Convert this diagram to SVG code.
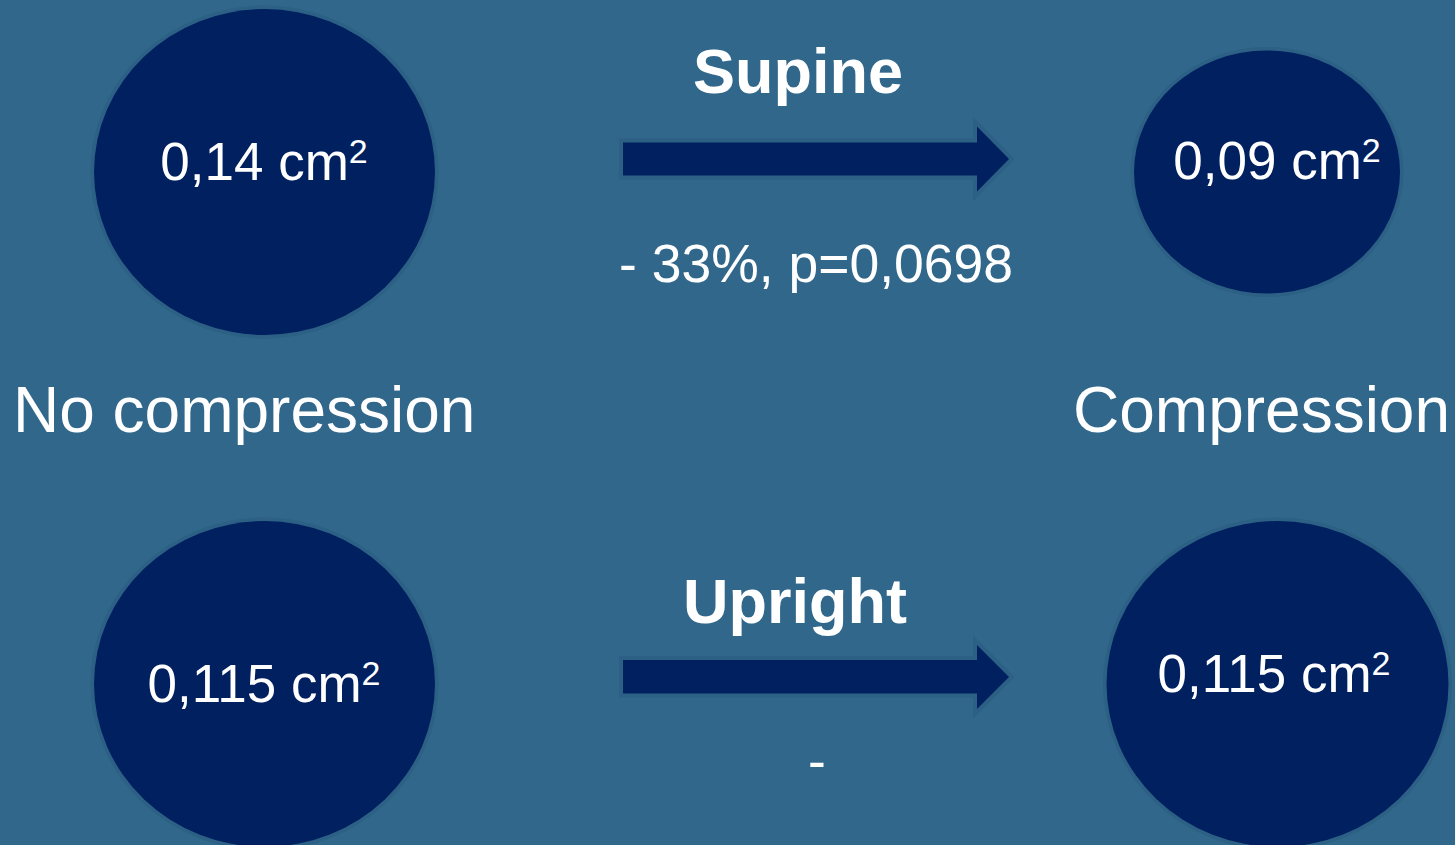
<svg xmlns="http://www.w3.org/2000/svg" width="1455" height="845" viewBox="0 0 1455 845">
  <style>
    .node { fill: #002060; }
    .halo { fill: none; stroke: #2c6084; stroke-width: 6; }
    .arrow { fill: #002060; }
    .arrowhalo { fill: none; stroke: #2c6084; stroke-width: 8; stroke-linejoin: miter; }
    .val { font-family: "Liberation Sans", Arial, sans-serif; font-size: 53px; fill: #ffffff; text-anchor: middle; }
    .sup { font-size: 34px; }
    .lbl { font-family: "Liberation Sans", Arial, sans-serif; font-size: 64px; fill: #ffffff; }
    .title { font-family: "Liberation Sans", Arial, sans-serif; font-size: 63px; font-weight: bold; fill: #ffffff; text-anchor: middle; }
    .stat { font-family: "Liberation Sans", Arial, sans-serif; font-size: 53.5px; fill: #ffffff; }
  </style>
  <rect x="0" y="0" width="1455" height="845" fill="#31678A"/>

  <g id="node-top-left">
    <ellipse class="halo" cx="264.5" cy="172" rx="171" ry="163.5"/>
    <ellipse class="node" cx="264.5" cy="172" rx="170.5" ry="163"/>
    <text class="val" x="264" y="180">0,14 cm<tspan class="sup" dy="-17">2</tspan></text>
  </g>

  <g id="node-top-right">
    <ellipse class="halo" cx="1267" cy="172" rx="133.5" ry="122"/>
    <ellipse class="node" cx="1267" cy="172" rx="133" ry="121.5"/>
    <text class="val" x="1277" y="179">0,09 cm<tspan class="sup" dy="-17">2</tspan></text>
  </g>

  <g id="node-bottom-left">
    <ellipse class="halo" cx="264.5" cy="684" rx="171" ry="163.5"/>
    <ellipse class="node" cx="264.5" cy="684" rx="170.5" ry="163"/>
    <text class="val" x="264" y="702">0,115 cm<tspan class="sup" dy="-17">2</tspan></text>
  </g>

  <g id="node-bottom-right">
    <ellipse class="halo" cx="1277.5" cy="684" rx="171.5" ry="163.5"/>
    <ellipse class="node" cx="1277.5" cy="684" rx="171" ry="163"/>
    <text class="val" x="1274" y="692">0,115 cm<tspan class="sup" dy="-17">2</tspan></text>
  </g>

  <g id="connectors">
    <path class="arrowhalo" d="M623,142.5 H977 V126.5 L1009,159 L977,191.5 V175.5 H623 Z"/>
    <path class="arrow" d="M623,142.5 H977 V126.5 L1009,159 L977,191.5 V175.5 H623 Z"/>
    <path class="arrowhalo" d="M623,660 H977 V645 L1009,677 L977,709 V693.5 H623 Z"/>
    <path class="arrow" d="M623,660 H977 V645 L1009,677 L977,709 V693.5 H623 Z"/>
  </g>

  <g id="labels">
    <text class="title" x="798" y="93">Supine</text>
    <text class="stat" x="619" y="282">- 33%, p=0,0698</text>
    <text class="title" x="795" y="623">Upright</text>
    <text class="stat" x="817" y="779" text-anchor="middle">-</text>
    <text class="lbl" x="13" y="432">No compression</text>
    <text class="lbl" x="1073" y="432">Compression</text>
  </g>
</svg>
